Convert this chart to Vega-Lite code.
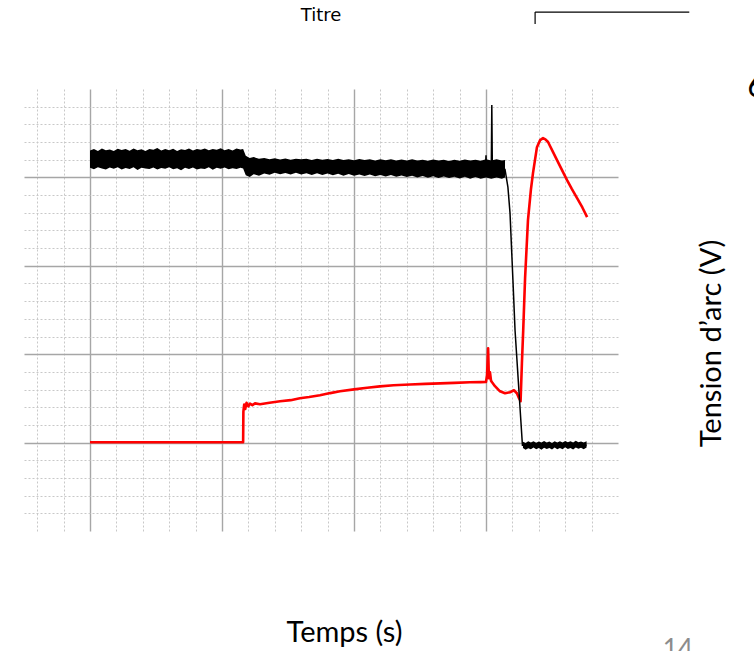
{
  "$schema": "https://vega.github.io/schema/vega-lite/v6.json",
  "autosize": {"type": "none"},
  "padding": {"left": 24, "top": 89, "right": 136, "bottom": 120},
  "width": 594,
  "height": 442,
  "background": "white",
  "config": {
    "view": {"stroke": null},
    "axis": {
      "grid": true,
      "domain": false,
      "ticks": false,
      "labels": false,
      "gridColor": {"condition": {"test": "datum.value % 5 === 0", "value": "#a6a6a6"}, "value": "#c8c8c8"},
      "gridDash": {"condition": {"test": "datum.value % 5 === 0", "value": []}, "value": [2, 2]},
      "gridWidth": {"condition": {"test": "datum.value % 5 === 0", "value": 1.4}, "value": 1},
      "gridOpacity": 1,
      "titleFont": "Lato",
      "titleFontWeight": "normal",
      "titleColor": "#000000"
    }
  },
  "datasets": {
    "band": [
      {"t": 0, "v2": 16.52, "v": 15.55, "seg": 1}, {"t": 0.15, "v2": 16.6, "v": 15.46, "seg": 1},
      {"t": 0.3, "v2": 16.5, "v": 15.57, "seg": 1}, {"t": 0.45, "v2": 16.63, "v": 15.5, "seg": 1},
      {"t": 0.6, "v2": 16.54, "v": 15.44, "seg": 1}, {"t": 0.75, "v2": 16.58, "v": 15.56, "seg": 1},
      {"t": 0.9, "v2": 16.49, "v": 15.49, "seg": 1}, {"t": 1.05, "v2": 16.62, "v": 15.58, "seg": 1},
      {"t": 1.2, "v2": 16.55, "v": 15.45, "seg": 1}, {"t": 1.35, "v2": 16.6, "v": 15.53, "seg": 1},
      {"t": 1.5, "v2": 16.51, "v": 15.48, "seg": 1}, {"t": 1.65, "v2": 16.64, "v": 15.57, "seg": 1},
      {"t": 1.8, "v2": 16.53, "v": 15.42, "seg": 1}, {"t": 1.95, "v2": 16.59, "v": 15.55, "seg": 1},
      {"t": 2.1, "v2": 16.5, "v": 15.5, "seg": 1}, {"t": 2.25, "v2": 16.61, "v": 15.47, "seg": 1},
      {"t": 2.4, "v2": 16.56, "v": 15.56, "seg": 1}, {"t": 2.55, "v2": 16.66, "v": 15.44, "seg": 1},
      {"t": 2.7, "v2": 16.52, "v": 15.53, "seg": 1}, {"t": 2.85, "v2": 16.6, "v": 15.49, "seg": 1},
      {"t": 3.0, "v2": 16.54, "v": 15.57, "seg": 1}, {"t": 3.15, "v2": 16.62, "v": 15.46, "seg": 1},
      {"t": 3.3, "v2": 16.5, "v": 15.52, "seg": 1}, {"t": 3.45, "v2": 16.59, "v": 15.4, "seg": 1},
      {"t": 3.6, "v2": 16.55, "v": 15.55, "seg": 1}, {"t": 3.75, "v2": 16.63, "v": 15.48, "seg": 1},
      {"t": 3.9, "v2": 16.52, "v": 15.56, "seg": 1}, {"t": 4.05, "v2": 16.6, "v": 15.45, "seg": 1},
      {"t": 4.2, "v2": 16.57, "v": 15.51, "seg": 1}, {"t": 4.35, "v2": 16.64, "v": 15.47, "seg": 1},
      {"t": 4.5, "v2": 16.53, "v": 15.57, "seg": 1}, {"t": 4.65, "v2": 16.61, "v": 15.43, "seg": 1},
      {"t": 4.8, "v2": 16.56, "v": 15.54, "seg": 1}, {"t": 4.95, "v2": 16.65, "v": 15.49, "seg": 1},
      {"t": 5.1, "v2": 16.54, "v": 15.56, "seg": 1}, {"t": 5.25, "v2": 16.6, "v": 15.46, "seg": 1},
      {"t": 5.4, "v2": 16.52, "v": 15.52, "seg": 1}, {"t": 5.55, "v2": 16.64, "v": 15.48, "seg": 1},
      {"t": 5.7, "v2": 16.58, "v": 15.55, "seg": 1}, {"t": 5.8, "v2": 16.6, "v": 15.5, "seg": 1},
      {"t": 5.9, "v2": 16.22, "v": 15.12, "seg": 1}, {"t": 6.05, "v2": 16.1, "v": 15.02, "seg": 1},
      {"t": 6.2, "v2": 16.15, "v": 15.18, "seg": 1}, {"t": 6.4, "v2": 16.05, "v": 15.1, "seg": 1},
      {"t": 6.6, "v2": 16.1, "v": 15.22, "seg": 1}, {"t": 6.8, "v2": 16.02, "v": 15.15, "seg": 1},
      {"t": 7.0, "v2": 16.08, "v": 15.26, "seg": 1}, {"t": 7.2, "v2": 16.01, "v": 15.18, "seg": 1},
      {"t": 7.4, "v2": 16.07, "v": 15.25, "seg": 1}, {"t": 7.6, "v2": 16.0, "v": 15.17, "seg": 1},
      {"t": 7.8, "v2": 16.06, "v": 15.27, "seg": 1}, {"t": 8.0, "v2": 16.02, "v": 15.16, "seg": 1},
      {"t": 8.2, "v2": 16.05, "v": 15.24, "seg": 1}, {"t": 8.4, "v2": 15.99, "v": 15.14, "seg": 1},
      {"t": 8.6, "v2": 16.06, "v": 15.23, "seg": 1}, {"t": 8.8, "v2": 16.0, "v": 15.13, "seg": 1},
      {"t": 9.0, "v2": 16.04, "v": 15.22, "seg": 1}, {"t": 9.2, "v2": 15.98, "v": 15.12, "seg": 1},
      {"t": 9.4, "v2": 16.05, "v": 15.2, "seg": 1}, {"t": 9.6, "v2": 15.99, "v": 15.1, "seg": 1},
      {"t": 9.8, "v2": 16.03, "v": 15.19, "seg": 1}, {"t": 10.0, "v2": 15.97, "v": 15.09, "seg": 1},
      {"t": 10.2, "v2": 16.04, "v": 15.17, "seg": 1}, {"t": 10.4, "v2": 15.98, "v": 15.08, "seg": 1},
      {"t": 10.6, "v2": 16.02, "v": 15.16, "seg": 1}, {"t": 10.8, "v2": 15.96, "v": 15.06, "seg": 1},
      {"t": 11.0, "v2": 16.03, "v": 15.14, "seg": 1}, {"t": 11.2, "v2": 15.97, "v": 15.05, "seg": 1},
      {"t": 11.4, "v2": 16.02, "v": 15.13, "seg": 1}, {"t": 11.6, "v2": 15.95, "v": 15.03, "seg": 1},
      {"t": 11.8, "v2": 16.01, "v": 15.11, "seg": 1}, {"t": 12.0, "v2": 15.96, "v": 15.02, "seg": 1},
      {"t": 12.2, "v2": 16.02, "v": 15.1, "seg": 1}, {"t": 12.4, "v2": 15.95, "v": 15.0, "seg": 1},
      {"t": 12.6, "v2": 16.0, "v": 15.08, "seg": 1}, {"t": 12.8, "v2": 15.94, "v": 14.98, "seg": 1},
      {"t": 13.0, "v2": 16.01, "v": 15.06, "seg": 1}, {"t": 13.2, "v2": 15.95, "v": 14.97, "seg": 1},
      {"t": 13.4, "v2": 16.0, "v": 15.05, "seg": 1}, {"t": 13.6, "v2": 15.93, "v": 14.96, "seg": 1},
      {"t": 13.8, "v2": 16.0, "v": 15.04, "seg": 1}, {"t": 14.0, "v2": 15.94, "v": 14.94, "seg": 1},
      {"t": 14.2, "v2": 16.01, "v": 15.03, "seg": 1}, {"t": 14.4, "v2": 15.95, "v": 14.93, "seg": 1},
      {"t": 14.6, "v2": 16.0, "v": 15.02, "seg": 1}, {"t": 14.8, "v2": 15.94, "v": 14.92, "seg": 1},
      {"t": 15.0, "v2": 16.02, "v": 15.0, "seg": 1}, {"t": 15.2, "v2": 15.96, "v": 14.92, "seg": 1},
      {"t": 15.4, "v2": 16.03, "v": 15.0, "seg": 1}, {"t": 15.6, "v2": 15.95, "v": 14.93, "seg": 1},
      {"t": 15.72, "v2": 15.98, "v": 15.0, "seg": 1},
      {"t": 16.4, "v2": 0.05, "v": -0.3, "seg": 2}, {"t": 16.5, "v2": -0.02, "v": -0.4, "seg": 2},
      {"t": 16.6, "v2": 0.08, "v": -0.32, "seg": 2}, {"t": 16.7, "v2": 0.0, "v": -0.38, "seg": 2},
      {"t": 16.8, "v2": 0.07, "v": -0.28, "seg": 2}, {"t": 16.9, "v2": -0.01, "v": -0.37, "seg": 2},
      {"t": 17.0, "v2": 0.06, "v": -0.3, "seg": 2}, {"t": 17.1, "v2": 0.01, "v": -0.4, "seg": 2},
      {"t": 17.2, "v2": 0.09, "v": -0.29, "seg": 2}, {"t": 17.3, "v2": 0.0, "v": -0.36, "seg": 2},
      {"t": 17.4, "v2": 0.06, "v": -0.31, "seg": 2}, {"t": 17.5, "v2": -0.02, "v": -0.39, "seg": 2},
      {"t": 17.6, "v2": 0.08, "v": -0.28, "seg": 2}, {"t": 17.7, "v2": 0.01, "v": -0.37, "seg": 2},
      {"t": 17.8, "v2": 0.07, "v": -0.3, "seg": 2}, {"t": 17.9, "v2": 0.0, "v": -0.38, "seg": 2},
      {"t": 18.0, "v2": 0.09, "v": -0.27, "seg": 2}, {"t": 18.1, "v2": 0.02, "v": -0.36, "seg": 2},
      {"t": 18.2, "v2": 0.07, "v": -0.3, "seg": 2}, {"t": 18.3, "v2": 0.0, "v": -0.39, "seg": 2},
      {"t": 18.4, "v2": 0.1, "v": -0.28, "seg": 2}, {"t": 18.5, "v2": 0.02, "v": -0.35, "seg": 2},
      {"t": 18.6, "v2": 0.06, "v": -0.29, "seg": 2}, {"t": 18.7, "v2": 0.0, "v": -0.37, "seg": 2},
      {"t": 18.81, "v2": 0.08, "v": -0.28, "seg": 2}
    ],
    "black": [
      {"t": 0, "v": 16.05},
      {"t": 5.8, "v": 16.05},
      {"t": 5.85, "v": 15.65},
      {"t": 14.98, "v": 15.5},
      {"t": 15.0, "v": 16.25},
      {"t": 15.02, "v": 15.5},
      {"t": 15.2, "v": 15.5},
      {"t": 15.22, "v": 19.09},
      {"t": 15.24, "v": 15.5},
      {"t": 15.72, "v": 15.45},
      {"t": 15.83, "v": 14.45},
      {"t": 15.91, "v": 12.98},
      {"t": 16.02, "v": 9.19},
      {"t": 16.1, "v": 6.35},
      {"t": 16.38, "v": -0.15},
      {"t": 18.81, "v": -0.15}
    ],
    "red": [
      {"t": 0, "v": 0.02}, {"t": 5.8, "v": 0.02}, {"t": 5.81, "v": 1.75}, {"t": 5.84, "v": 2.15},
      {"t": 5.88, "v": 1.9}, {"t": 5.93, "v": 2.25}, {"t": 6.0, "v": 2.05}, {"t": 6.06, "v": 2.2},
      {"t": 6.15, "v": 2.12}, {"t": 6.25, "v": 2.22}, {"t": 6.44, "v": 2.17}, {"t": 6.8, "v": 2.25},
      {"t": 7.2, "v": 2.34}, {"t": 7.6, "v": 2.4}, {"t": 7.95, "v": 2.51}, {"t": 8.3, "v": 2.58},
      {"t": 8.71, "v": 2.68}, {"t": 9.1, "v": 2.8}, {"t": 9.47, "v": 2.9}, {"t": 10.0, "v": 3.01},
      {"t": 10.5, "v": 3.1}, {"t": 10.98, "v": 3.18}, {"t": 11.5, "v": 3.24}, {"t": 12.12, "v": 3.29},
      {"t": 12.7, "v": 3.32}, {"t": 13.26, "v": 3.35}, {"t": 13.8, "v": 3.38}, {"t": 14.39, "v": 3.41},
      {"t": 14.8, "v": 3.42}, {"t": 15.0, "v": 3.43}, {"t": 15.04, "v": 3.81}, {"t": 15.08, "v": 5.34},
      {"t": 15.11, "v": 3.64}, {"t": 15.15, "v": 3.98}, {"t": 15.19, "v": 3.5}, {"t": 15.23, "v": 3.41},
      {"t": 15.34, "v": 3.19}, {"t": 15.53, "v": 2.9}, {"t": 15.72, "v": 2.79}, {"t": 15.91, "v": 2.85},
      {"t": 16.06, "v": 2.96}, {"t": 16.17, "v": 2.79}, {"t": 16.25, "v": 2.51}, {"t": 16.31, "v": 2.34},
      {"t": 16.36, "v": 4.49}, {"t": 16.41, "v": 6.36}, {"t": 16.48, "v": 9.3}, {"t": 16.59, "v": 12.58},
      {"t": 16.7, "v": 14.3}, {"t": 16.78, "v": 15.24}, {"t": 16.93, "v": 16.71}, {"t": 17.05, "v": 17.11},
      {"t": 17.16, "v": 17.22}, {"t": 17.25, "v": 17.15}, {"t": 17.35, "v": 17.0}, {"t": 17.54, "v": 16.43},
      {"t": 17.7, "v": 15.95}, {"t": 17.88, "v": 15.41}, {"t": 18.07, "v": 14.85}, {"t": 18.25, "v": 14.35},
      {"t": 18.45, "v": 13.83}, {"t": 18.65, "v": 13.3}, {"t": 18.83, "v": 12.75}
    ],
    "frame": [
      {"t": 16.86, "v": 24.35, "t2": 22.7, "v2": 24.35},
      {"t": 16.86, "v": 24.35, "t2": 16.86, "v2": 23.67}
    ],
    "heading": [{"t": 8.75, "v": 23.84, "label": "Titre"}],
    "six": [{"t": 24.9, "v": 19.54, "label": "6"}],
    "page": [{"t": 22.27, "v": -11.02, "label": "14"}]
  },
  "encoding": {
    "x": {
      "field": "t", "type": "quantitative",
      "scale": {"domain": [-2.5, 20], "nice": false, "zero": false},
      "axis": {
        "values": [-2, -1, 0, 1, 2, 3, 4, 5, 6, 7, 8, 9, 10, 11, 12, 13, 14, 15, 16, 17, 18, 19],
        "title": "Temps (s)", "titleFontSize": 29, "titleX": 320, "titleY": 110,
        "titleBaseline": "alphabetic", "titleAlign": "center", "titleAnchor": null
      }
    },
    "y": {
      "field": "v", "type": "quantitative",
      "scale": {"domain": [-5, 20], "nice": false, "zero": false},
      "axis": {
        "orient": "right",
        "values": [-4, -3, -2, -1, 0, 1, 2, 3, 4, 5, 6, 7, 8, 9, 10, 11, 12, 13, 14, 15, 16, 17, 18, 19],
        "title": "Tension d’arc (V)", "titleFontSize": 29, "titleAngle": 270, "titleX": 102, "titleY": 254,
        "titleBaseline": "alphabetic", "titleAlign": "center", "titleAnchor": null
      }
    }
  },
  "layer": [
    {
      "data": {"name": "red"},
      "mark": {"type": "line", "color": "#ff0000", "strokeWidth": 2.6, "strokeJoin": "round"}
    },
    {
      "data": {"name": "band"},
      "mark": {"type": "area", "color": "#000000", "opacity": 1},
      "encoding": {"y2": {"field": "v2"}, "detail": {"field": "seg", "type": "nominal"}}
    },
    {
      "data": {"name": "black"},
      "mark": {"type": "line", "color": "#000000", "strokeWidth": 1.5}
    },
    {
      "data": {"name": "frame"},
      "mark": {"type": "rule", "color": "#000000", "strokeWidth": 1.2},
      "encoding": {"x2": {"field": "t2"}, "y2": {"field": "v2"}}
    },
    {
      "data": {"name": "heading"},
      "mark": {"type": "text", "font": "DejaVu Sans", "fontSize": 18, "fontWeight": "normal", "align": "center", "baseline": "alphabetic", "color": "#000000"},
      "encoding": {"text": {"field": "label"}}
    },
    {
      "data": {"name": "six"},
      "mark": {"type": "text", "font": "Lato", "fontSize": 32, "align": "left", "baseline": "alphabetic", "color": "#000000"},
      "encoding": {"text": {"field": "label"}}
    },
    {
      "data": {"name": "page"},
      "mark": {"type": "text", "font": "Lato", "fontSize": 26, "align": "center", "baseline": "top", "color": "#8c8c8c"},
      "encoding": {"text": {"field": "label"}}
    }
  ]
}
